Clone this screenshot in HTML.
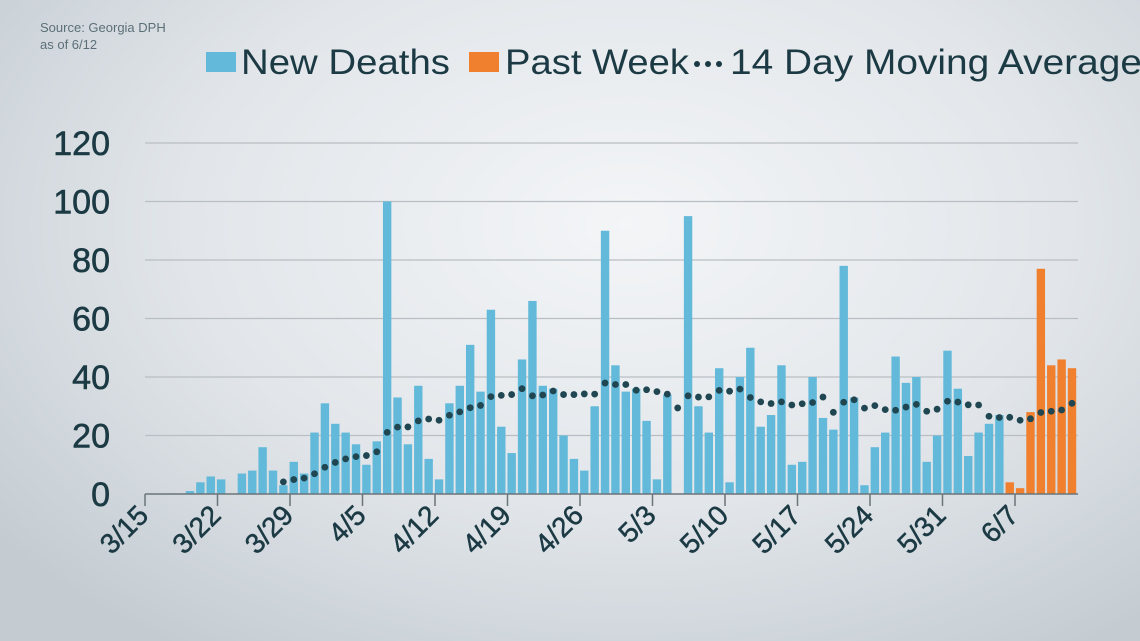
<!DOCTYPE html>
<html><head><meta charset="utf-8"><style>
html,body{margin:0;padding:0;width:1140px;height:641px;overflow:hidden}
body{background:radial-gradient(ellipse 70% 80% at 55% 35%,#f3f5f7 0%,#e2e6ea 55%,#c4ccd2 100%);font-family:"Liberation Sans",sans-serif}
</style></head><body>
<svg id="s" width="1140" height="641" xmlns="http://www.w3.org/2000/svg" style="position:absolute;left:0;top:0">
<text x="40" y="32" font-size="13" fill="#5c6f78">Source: Georgia DPH</text>
<text x="40" y="49" font-size="13" fill="#5c6f78">as of 6/12</text>
<rect x="206" y="52" width="30" height="20" fill="#63b9d9"/>
<text x="241" y="74" font-size="35" fill="#1c3a44" textLength="209" lengthAdjust="spacingAndGlyphs">New Deaths</text>
<rect x="469" y="52" width="30" height="20" fill="#f07f2e"/>
<text x="505" y="74" font-size="35" fill="#1c3a44" textLength="184" lengthAdjust="spacingAndGlyphs">Past Week</text>
<circle cx="697" cy="64" r="3" fill="#1c3a44"/><circle cx="708" cy="64" r="3" fill="#1c3a44"/><circle cx="719" cy="64" r="3" fill="#1c3a44"/>
<text x="730" y="74" font-size="35" fill="#1c3a44" textLength="412" lengthAdjust="spacingAndGlyphs">14 Day Moving Average</text>
<g id="g"></g>
</svg>
<script>
const g=document.getElementById('g');const NS='http://www.w3.org/2000/svg';
function el(t,a,txt){const e=document.createElementNS(NS,t);for(const k in a)e.setAttribute(k,a[k]);if(txt!==undefined)e.textContent=txt;g.appendChild(e);return e;}
const y0=494,ppu=(494-143)/120;
for(let v=20;v<=120;v+=20){const y=y0-v*ppu;el('line',{x1:145,x2:1078,y1:y,y2:y,stroke:'#b8bec3','stroke-width':1.3});}
for(let v=0;v<=120;v+=20){const y=y0-v*ppu;el('text',{x:110,y:y+12,'font-size':34,fill:'#1c3a44','text-anchor':'end','stroke':'#1c3a44','stroke-width':0.6},String(v));}
const vals=[1,4,6,5,0,7,8,16,8,3,11,7,21,31,24,21,17,10,18,100,33,17,37,12,5,31,37,51,35,63,23,14,46,66,37,36,20,12,8,30,90,44,35,36,25,5,34,0,95,30,21,43,4,40,50,23,27,44,10,11,40,26,22,78,33,3,16,21,47,38,40,11,20,49,36,13,21,24,27,4,2,28,77,44,46,43];
const data=[0,0,0,0].concat(vals);
const step=(1072-190)/85;
const cx=d=>190+(d-4)*step;
data.forEach((v,d)=>{if(d<4||v<=0)return;const h=v*ppu;el('rect',{x:cx(d)-4.2,y:y0-h,width:8.4,height:h,fill:d>=83?'#f07f2e':'#63b9d9'});});
for(let d=13;d<data.length;d++){let s=0;for(let k=d-13;k<=d;k++)s+=data[k];const a=s/14;el('circle',{cx:cx(d),cy:y0-a*ppu,r:3.4,fill:'#1f4651'});}
el('line',{x1:145,x2:1078,y1:494,y2:494,stroke:'#6b7479','stroke-width':1.5});
const labs=['3/15','3/22','3/29','4/5','4/12','4/19','4/26','5/3','5/10','5/17','5/24','5/31','6/7'];
labs.forEach((l,i)=>{const x=145+i*72.5;el('line',{x1:x,x2:x,y1:494,y2:506,stroke:'#6b7479','stroke-width':1.5});
el('text',{x:x+5,y:517,'font-size':28,fill:'#1c3a44','text-anchor':'end','stroke':'#1c3a44','stroke-width':0.5,transform:`rotate(-45 ${x+5} 517)`},l);});
</script>
</body></html>
